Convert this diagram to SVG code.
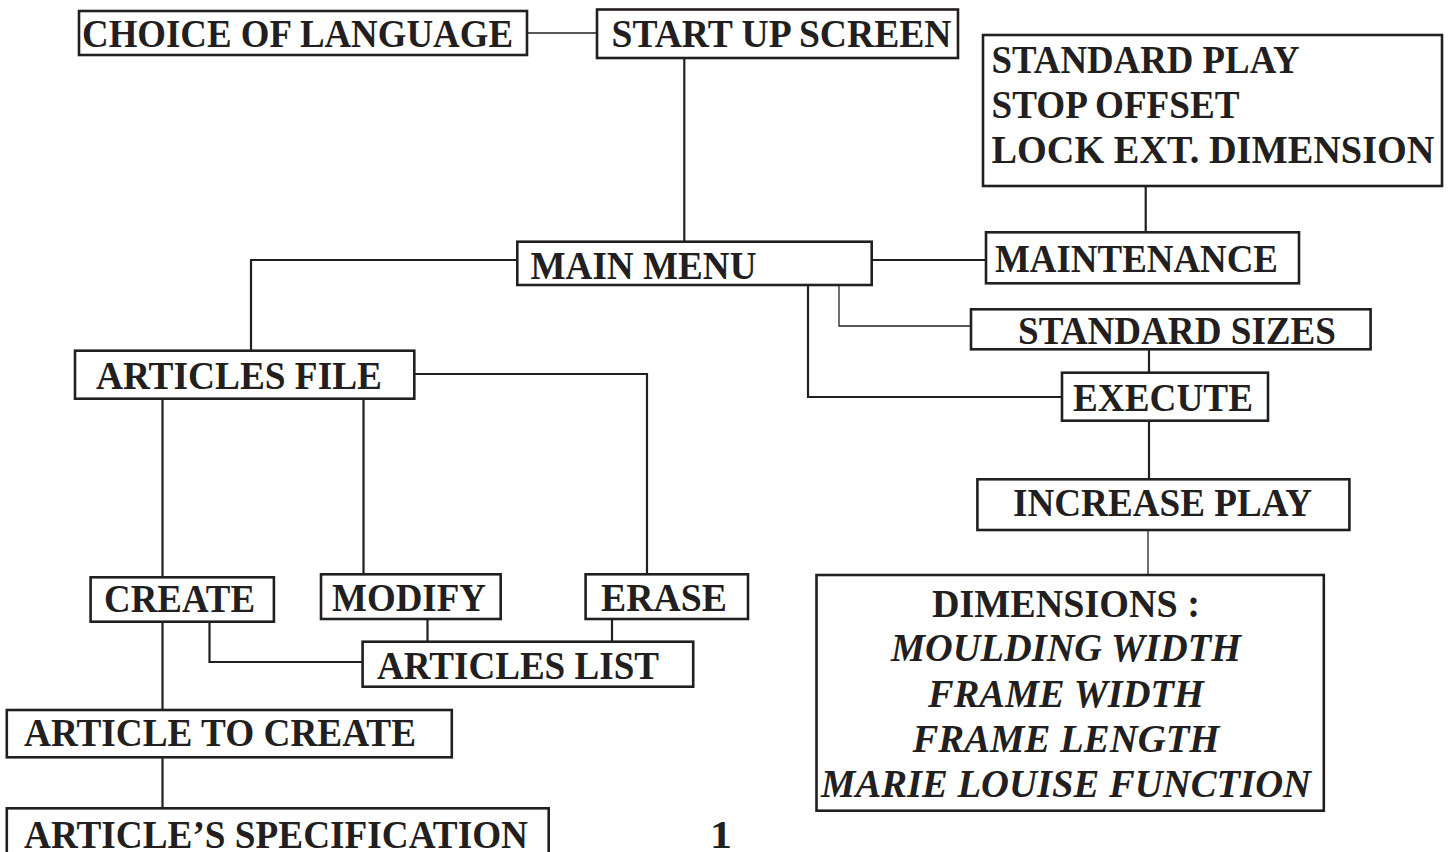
<svg xmlns="http://www.w3.org/2000/svg" width="1453" height="852" viewBox="0 0 1453 852">
<style>
.box{fill:#fff;stroke:#231f20;stroke-width:2.6}
.t{font-family:"Liberation Serif","Times New Roman",serif;font-weight:bold;font-size:40px;fill:#231f20}
.i{font-style:italic}
.c{fill:none;stroke:#231f20;stroke-width:2.2}
.thin{fill:none;stroke:#231f20;stroke-width:1.3}
</style>
<rect width="1453" height="852" fill="#fff"/>
<g id="connectors">
<path class="thin" d="M527 33 H597"/>
<path class="c" d="M684.3 58 V242"/>
<path class="c" d="M517 260 H251 V351"/>
<path class="c" d="M872 260 H986"/>
<path class="c" d="M1145.7 186 V232"/>
<path class="c" d="M808 285 V397 H1062"/>
<path class="thin" d="M839 285 V326 H971"/>
<path class="c" d="M1149 349 V373"/>
<path class="c" d="M1149 421 V479"/>
<path class="thin" d="M1148 530 V575"/>
<path class="c" d="M414 374 H647 V574"/>
<path class="c" d="M162.5 399 V577"/>
<path class="c" d="M363.5 399 V574"/>
<path class="c" d="M427.5 619 V642"/>
<path class="c" d="M612 619 V642"/>
<path class="c" d="M209.5 622 V662 H363"/>
<path class="c" d="M162.5 622 V710"/>
<path class="c" d="M162.5 757 V808"/>
</g>
<g id="choice-of-language"><rect class="box" x="79" y="11" width="448" height="44"/><text class="t" x="82" y="47" textLength="431" lengthAdjust="spacingAndGlyphs">CHOICE OF LANGUAGE</text></g>
<g id="start-up-screen"><rect class="box" x="597" y="9.5" width="361" height="48.5"/><text class="t" x="611.5" y="47" textLength="340" lengthAdjust="spacingAndGlyphs">START UP SCREEN</text></g>
<g id="settings"><rect class="box" x="983" y="35" width="459" height="151"/>
<text class="t" x="991.5" y="73" textLength="308" lengthAdjust="spacingAndGlyphs">STANDARD PLAY</text>
<text class="t" x="991.5" y="118" textLength="248" lengthAdjust="spacingAndGlyphs">STOP OFFSET</text>
<text class="t" x="991.5" y="163" textLength="443" lengthAdjust="spacingAndGlyphs">LOCK EXT. DIMENSION</text></g>
<g id="main-menu"><rect class="box" x="517.3" y="241.7" width="354.4" height="43.3"/><text class="t" x="530.5" y="279" textLength="226" lengthAdjust="spacingAndGlyphs">MAIN MENU</text></g>
<g id="maintenance"><rect class="box" x="986" y="232.3" width="313" height="51"/><text class="t" x="995" y="271.5" textLength="283" lengthAdjust="spacingAndGlyphs">MAINTENANCE</text></g>
<g id="standard-sizes"><rect class="box" x="971" y="309.3" width="399.6" height="40"/><text class="t" x="1018" y="344" textLength="318" lengthAdjust="spacingAndGlyphs">STANDARD SIZES</text></g>
<g id="execute"><rect class="box" x="1062" y="372.7" width="206" height="48"/><text class="t" x="1073" y="410.5" textLength="180" lengthAdjust="spacingAndGlyphs">EXECUTE</text></g>
<g id="increase-play"><rect class="box" x="977.4" y="479.3" width="372" height="50.7"/><text class="t" x="1013" y="516" textLength="299" lengthAdjust="spacingAndGlyphs">INCREASE PLAY</text></g>
<g id="dimensions"><rect class="box" x="816.5" y="575" width="507.3" height="235.7"/>
<text class="t" x="1066" y="617.3" text-anchor="middle" textLength="268" lengthAdjust="spacingAndGlyphs">DIMENSIONS :</text>
<text class="t i" x="1066" y="661" text-anchor="middle" textLength="350" lengthAdjust="spacingAndGlyphs">MOULDING WIDTH</text>
<text class="t i" x="1066" y="706.5" text-anchor="middle" textLength="276" lengthAdjust="spacingAndGlyphs">FRAME WIDTH</text>
<text class="t i" x="1066" y="751.5" text-anchor="middle" textLength="307" lengthAdjust="spacingAndGlyphs">FRAME LENGTH</text>
<text class="t i" x="1066" y="796.5" text-anchor="middle" textLength="490" lengthAdjust="spacingAndGlyphs">MARIE LOUISE FUNCTION</text></g>
<g id="articles-file"><rect class="box" x="75" y="350.7" width="339.3" height="48"/><text class="t" x="96" y="389" textLength="286" lengthAdjust="spacingAndGlyphs">ARTICLES FILE</text></g>
<g id="create"><rect class="box" x="90.6" y="577.3" width="183.3" height="44.4"/><text class="t" x="104" y="611.5" textLength="151" lengthAdjust="spacingAndGlyphs">CREATE</text></g>
<g id="modify"><rect class="box" x="321" y="574.3" width="179.7" height="44.7"/><text class="t" x="332" y="611" textLength="154" lengthAdjust="spacingAndGlyphs">MODIFY</text></g>
<g id="erase"><rect class="box" x="585.6" y="574.3" width="162.4" height="44.7"/><text class="t" x="601" y="611" textLength="126" lengthAdjust="spacingAndGlyphs">ERASE</text></g>
<g id="articles-list"><rect class="box" x="362.6" y="641.7" width="330.6" height="45"/><text class="t" x="377" y="679" textLength="282" lengthAdjust="spacingAndGlyphs">ARTICLES LIST</text></g>
<g id="article-to-create"><rect class="box" x="6.8" y="710" width="445" height="47.3"/><text class="t" x="24" y="745.5" textLength="392" lengthAdjust="spacingAndGlyphs">ARTICLE TO CREATE</text></g>
<g id="article-specification"><rect class="box" x="6.8" y="808.3" width="541.9" height="60"/><text class="t" x="24" y="848" textLength="504" lengthAdjust="spacingAndGlyphs">ARTICLE’S SPECIFICATION</text></g>
<g id="page-number"><text class="t" x="710" y="848" textLength="22" lengthAdjust="spacingAndGlyphs">1</text></g>
</svg>
